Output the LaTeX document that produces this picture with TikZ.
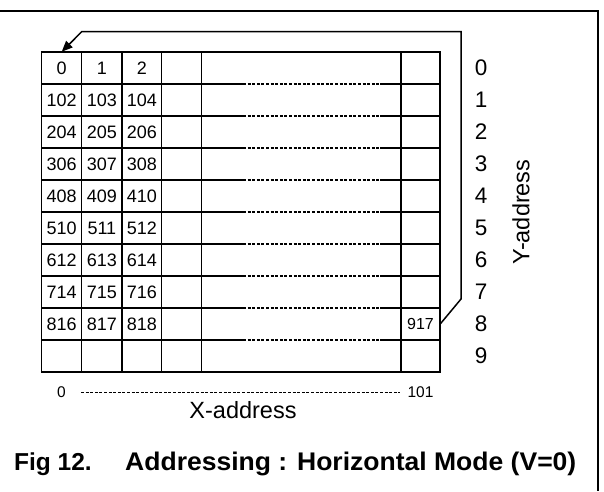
\documentclass[tikz,border=0pt]{standalone}
\usepackage{fontspec}
\setmainfont{Liberation Sans}
\usetikzlibrary{arrows.meta}
\begin{document}
\begin{tikzpicture}[x=1pt,y=-1pt,
  cell/.style={minimum width=40pt, minimum height=32pt, inner sep=0pt, font=\fontsize{18}{20}\selectfont},
  smallcell/.style={minimum width=39pt, minimum height=32pt, inner sep=0pt, font=\fontsize{16}{18}\selectfont},
  gridline/.style={line width=1.5pt},
  dotline/.style={line width=1.3pt, dash pattern=on 3pt off 1.6pt},
  ylab/.style={inner sep=0pt, font=\fontsize{22.5}{25}\selectfont},
  axlab/.style={inner sep=0pt, font=\fontsize{15.5}{17}\selectfont},
  title/.style={inner sep=0pt, font=\fontsize{23.5}{26}\selectfont},
  caption/.style={inner sep=0pt, anchor=base west, font=\bfseries\fontsize{24.5}{28}\selectfont},
  loop/.style={line width=1.5pt, -{Triangle[length=11pt,width=9pt]}}]
\useasboundingbox (0,0) rectangle (604,491);
% frame
\draw[line width=2pt] (0,11) -- (598,11) -- (598,491);
% grid verticals
\foreach \x in {41.7,81.7,122,161.7,201.7,401,440}
  \draw[gridline] (\x,52) -- (\x,372);
% top and bottom
\draw[gridline] (40.95,52) -- (440.75,52);
\draw[gridline] (40.95,372) -- (440.75,372);
% inner rows
\foreach \r in {1,...,9}{
  \pgfmathsetmacro{\yy}{52+32*\r}
  \draw[gridline] (41.7,\yy) -- (243,\yy);
  \draw[dotline] (243,\yy) -- (380,\yy);
  \draw[gridline] (380,\yy) -- (440,\yy);
}
% cell texts
\node[cell] (c-0-0) at (61.7,68) {0};
\node[cell] (c-0-1) at (101.85,68) {1};
\node[cell] (c-0-2) at (141.85,68) {2};
\foreach \r in {1,...,8}{
  \pgfmathtruncatemacro{\a}{102*\r}
  \pgfmathtruncatemacro{\b}{102*\r+1}
  \pgfmathtruncatemacro{\c}{102*\r+2}
  \node[cell] (c-\r-0) at (61.7,68+32*\r) {\a};
  \node[cell] (c-\r-1) at (101.85,68+32*\r) {\b};
  \node[cell] (c-\r-2) at (141.85,68+32*\r) {\c};
}
\node[smallcell] (c917) at (420.5,324) {917};
% y labels
\foreach \r in {0,...,9}
  \node[ylab] (y\r) at (481,68+32*\r) {\r};
\node[title, rotate=90] (yaddr) at (521,212) {Y-address};
% x axis
\node[axlab] (x0) at (61.5,392) {0};
\node[axlab] (x101) at (420.5,392) {101};
\draw[dotline, line width=1pt, shorten <=15pt, shorten >=7pt] (x0) -- (x101);
\node[title] (xaddr) at (243,410) {X-address};
% arrow
\coordinate (b1) at (461,299);
\coordinate (b2) at (461,31.7);
\coordinate (b3) at (81.7,31.7);
\draw[loop] (c917.east) -- (b1) -- (b2) -- (b3) -- (c-0-0.north);
% caption
\node[caption] (fig) at (14,470) {Fig 12.};
\node[caption, font=\bfseries\fontsize{25.5}{28}\selectfont, xscale=1.04] (cap) at (125,470) {Addressing : Horizontal Mode (V=0)};
\end{tikzpicture}
\end{document}
